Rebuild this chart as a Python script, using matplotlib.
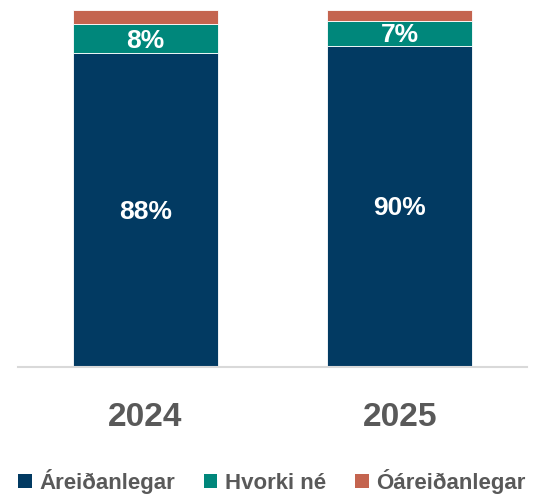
import matplotlib.pyplot as plt
import numpy as np
from matplotlib.patches import Patch

plt.rcParams["font.family"] = ["Liberation Sans", "DejaVu Sans"]

years = ["2024", "2025"]
series = ["Áreiðanlegar", "Hvorki né", "Óáreiðanlegar"]
reliable = [88, 90]
neither = [8, 7]
unreliable = [4, 3]
colors = ["#023A62", "#00877B", "#C4644F"]

values = [np.array(reliable), np.array(neither), np.array(unreliable)]
x = np.arange(len(years))

fig = plt.figure(figsize=(5.44, 4.95), dpi=100)
ax = fig.add_axes([0.0336, 0.259, 0.935, 0.721])

bottom = np.zeros(len(years))
for vals, name, col in zip(values, series, colors):
    ax.bar(x, vals, width=0.571, bottom=bottom, color=col,
           edgecolor="white", linewidth=0.6, label=name)
    for xi, v, b in zip(x, vals, bottom):
        if v >= 5:
            ax.text(xi, b + v / 2 - 0.6, f"{v}%", ha="center", va="center",
                    color="white", fontsize=19, fontweight="bold")
    bottom += vals

ax.set_xlim(-0.5, 1.5)
ax.set_ylim(0, 100)
ax.set_xticks(x)
ax.set_xticklabels(years, fontsize=24, fontweight="bold", color="#595959")
ax.tick_params(axis="x", length=0, pad=25)
ax.set_yticks([])
for side in ("top", "right", "left"):
    ax.spines[side].set_visible(False)
ax.spines["bottom"].set_color("#D9D9D9")
ax.spines["bottom"].set_linewidth(1.5)

handles = [Patch(facecolor=c, label=s) for s, c in zip(series, colors)]
fig.legend(handles=handles, loc="center", bbox_to_anchor=(0.5, 0.028),
           ncol=3, frameon=False, handlelength=0.6, handleheight=0.6,
           handletextpad=0.35, columnspacing=1.3,
           prop={"size": 16, "weight": "bold"}, labelcolor="#595959")

fig.savefig("out.png", dpi=100)
